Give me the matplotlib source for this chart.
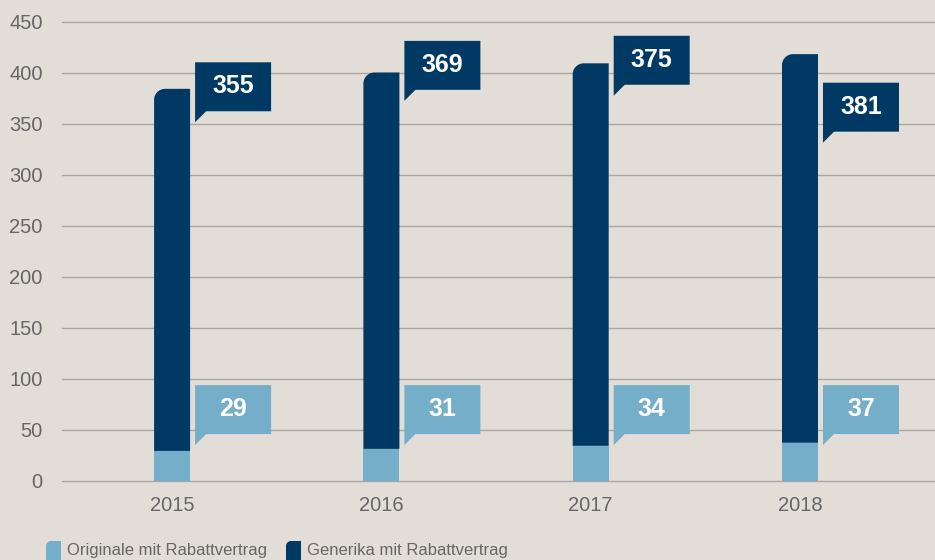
import matplotlib
matplotlib.use("Agg")
import matplotlib.pyplot as plt
from matplotlib.path import Path
from matplotlib.patches import PathPatch, Polygon
import numpy as np

plt.rcParams['font.family'] = ['Liberation Sans', 'DejaVu Sans']

# ---- data ----
years = ["2015", "2016", "2017", "2018"]
originale = [29, 31, 34, 37]
generika = [355, 369, 375, 381]
y_ticks = [0, 50, 100, 150, 200, 250, 300, 350, 400, 450]
legend_labels = ["Originale mit Rabattvertrag", "Generika mit Rabattvertrag"]

# ---- layout / style ----
gen_box_top = [410, 431, 436, 390]   # callout box tops (data units)
orig_box_top = [93.5, 93.5, 93.5, 93.5]
box_h = 48
bg = "#e3ddd8"
c_light = "#74aec9"
c_dark = "#003963"
grid_c = "#a9a6a3"
txt_c = "#666666"

W, H = 935, 560
fig = plt.figure(figsize=(W / 100, H / 100), dpi=100, facecolor=bg)
ax_l, ax_top_px, ax_bot_px = 62, 21.5, 480.5
ax = fig.add_axes([ax_l / W, (H - ax_bot_px) / H, 1 - ax_l / W, (ax_bot_px - ax_top_px) / H])
ax.set_facecolor(bg)

x = np.arange(len(years))
xmin, xmax = -0.526, 3.645
ymin, ymax = 0, 450
ax.set_xlim(xmin, xmax)
ax.set_ylim(ymin, ymax)
for s in ax.spines.values():
    s.set_visible(False)

for t in y_ticks:
    ax.axhline(t, color=grid_c, lw=1.0, zorder=1, clip_on=False)

bw = 0.172
b1 = ax.bar(x, originale, width=bw, color=c_light, zorder=2, linewidth=0)
b2 = ax.bar(x, generika, width=bw, bottom=originale, color=c_dark, zorder=2, linewidth=0)

# pixel -> data scales
px_x = (xmax - xmin) / (W - ax_l)
px_y = (ymax - ymin) / (ax_bot_px - ax_top_px)

# replace dark bars with rounded top-left corner versions
r = 11
k = 0.5523
for rect in b2:
    x0, y0 = rect.get_x(), rect.get_y()
    w, h = rect.get_width(), rect.get_height()
    rx, ry = r * px_x, r * px_y
    x1, y1 = x0 + w, y0 + h
    verts = [(x0, y0), (x1, y0), (x1, y1), (x0 + rx, y1),
             (x0 + rx * (1 - k), y1), (x0, y1 - ry * (1 - k)), (x0, y1 - ry),
             (x0, y0), (x0, y0)]
    codes = [Path.MOVETO, Path.LINETO, Path.LINETO, Path.LINETO,
             Path.CURVE4, Path.CURVE4, Path.CURVE4, Path.LINETO, Path.CLOSEPOLY]
    ax.add_patch(PathPatch(Path(verts, codes), facecolor=c_dark, edgecolor='none', zorder=2))
    rect.set_visible(False)

# callouts
gap = 5 * px_x
box_w = 76 * px_x
tri_w = 11 * px_x
tri_h = 11 * px_y

def callout(xc, top, val, color):
    left = xc + bw / 2 + gap
    bot = top - box_h
    pts = [(left, top), (left + box_w, top), (left + box_w, bot),
           (left + tri_w, bot), (left, bot - tri_h), (left, bot)]
    ax.add_patch(Polygon(pts, closed=True, facecolor=color, edgecolor='none', zorder=3))
    ax.text(left + box_w / 2, (top + bot) / 2 + 0.5, str(val), ha='center', va='center',
            color='white', fontsize=18, fontweight='bold', zorder=4)

for i in range(len(years)):
    callout(x[i], gen_box_top[i], generika[i], c_dark)
    callout(x[i], orig_box_top[i], originale[i], c_light)

ax.set_xticks(x)
ax.set_xticklabels(years)
ax.set_yticks(y_ticks)
ax.set_yticklabels([str(t) for t in y_ticks])
ax.tick_params(axis='both', length=0, labelsize=14.5, labelcolor=txt_c)
ax.tick_params(axis='x', pad=11)
ax.tick_params(axis='y', pad=14)

# legend
def legend_item(px0, label, color):
    mx0, mx1 = px0, px0 + 15
    my_top, my_bot = 541, 562
    rr = 5
    def f(xp, yp):
        return (xp / W, 1 - yp / H)
    verts = [f(mx0, my_bot), f(mx1, my_bot), f(mx1, my_top), f(mx0 + rr, my_top),
             f(mx0 + rr * (1 - k), my_top), f(mx0, my_top + rr * (1 - k)), f(mx0, my_top + rr),
             f(mx0, my_bot), f(mx0, my_bot)]
    codes = [Path.MOVETO, Path.LINETO, Path.LINETO, Path.LINETO,
             Path.CURVE4, Path.CURVE4, Path.CURVE4, Path.LINETO, Path.CLOSEPOLY]
    fig.patches.append(PathPatch(Path(verts, codes), facecolor=color, edgecolor='none',
                                 transform=fig.transFigure, figure=fig))
    fig.text((mx1 + 6) / W, 1 - 551 / H, label, ha='left', va='center',
             fontsize=12, color=txt_c)

legend_item(46, legend_labels[0], c_light)
legend_item(286, legend_labels[1], c_dark)

fig.savefig("out.png", dpi=100, facecolor=bg)
